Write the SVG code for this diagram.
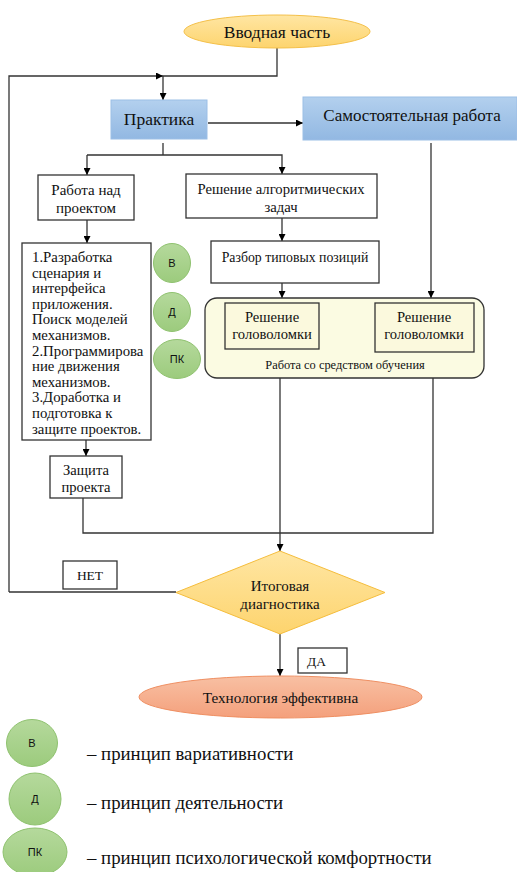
<svg xmlns="http://www.w3.org/2000/svg" width="517" height="872" viewBox="0 0 517 872" font-family="'Liberation Serif', 'Times New Roman', serif">
<defs>
<linearGradient id="gYel" x1="0" y1="0" x2="0" y2="1"><stop offset="0" stop-color="#ffe6a3"/><stop offset="1" stop-color="#fdd46e"/></linearGradient>
<linearGradient id="gBlue" x1="0" y1="0" x2="0" y2="1"><stop offset="0" stop-color="#b3d0ee"/><stop offset="1" stop-color="#92b8e2"/></linearGradient>
<linearGradient id="gGreen" x1="0" y1="0" x2="0" y2="1"><stop offset="0" stop-color="#b5d99c"/><stop offset="1" stop-color="#9ccb7d"/></linearGradient>
<linearGradient id="gSalmon" x1="0" y1="0" x2="0" y2="1"><stop offset="0" stop-color="#f8c0a3"/><stop offset="1" stop-color="#f4a07c"/></linearGradient>
<marker id="ah" viewBox="0 0 10 10" refX="10" refY="5" markerWidth="7" markerHeight="7" markerUnits="userSpaceOnUse" orient="auto"><path d="M0,0 L10,5 L0,10 z" fill="#000"/></marker>
</defs>
<style>
text{fill:#111;text-anchor:middle;dominant-baseline:central}
.box{fill:#fff;stroke:#333;stroke-width:1.3}
.blue{fill:url(#gBlue);stroke:#9cbfe6;stroke-width:1}
.circ{fill:url(#gGreen);stroke:#8fc26f;stroke-width:1}
.ct{font-family:'Liberation Sans',Arial,sans-serif;font-size:11px}
.conn path{fill:none;stroke:#333;stroke-width:1.3}
.arr{marker-end:url(#ah)}
.lt{text-anchor:start}
.leg{font-size:18.8px;text-anchor:start}
</style>

<g id="connectors" class="conn">
<path d="M277,48 V76 H163"/>
<path class="arr" d="M9,592 V76 H163"/>
<path class="arr" d="M163,76 V100"/>
<path class="arr" d="M208,123 H303"/>
<path d="M163,143 V155"/>
<path class="arr" d="M87,155 V175"/>
<path class="arr" d="M87,155 H282 V174"/>
<path class="arr" d="M431,143 V298"/>
<path class="arr" d="M87,220 V243"/>
<path class="arr" d="M282,218 V241"/>
<path class="arr" d="M282,283 V298"/>
<path class="arr" d="M86,440 V456"/>
<path d="M83,498 V533 H433 V378"/>
<path class="arr" d="M280,378 V551"/>
<path d="M176,592 H9"/>
<path class="arr" d="M280,634 V676"/>
</g>

<g id="n-intro">
<ellipse cx="277" cy="31.5" rx="93" ry="16.5" fill="url(#gYel)" stroke="#f4c04a" stroke-width="1"/>
<text x="277" y="31.5" font-size="17.5">Вводная часть</text>
</g>

<g id="n-practice">
<rect class="blue" x="111" y="100" width="96" height="39"/>
<text x="159" y="119" font-size="17.5">Практика</text>
</g>

<g id="n-self">
<rect class="blue" x="303" y="97" width="214" height="43"/>
<text x="412" y="115" font-size="17">Самостоятельная работа</text>
</g>

<g id="n-project">
<rect class="box" x="38" y="175" width="96" height="45"/>
<text x="86" y="190" font-size="15">Работа над</text>
<text x="86" y="207.5" font-size="15">проектом</text>
</g>

<g id="n-algo">
<rect class="box" x="186" y="174" width="191" height="44"/>
<text x="281" y="189" font-size="14.7">Решение алгоритмических</text>
<text x="281" y="207" font-size="14.7">задач</text>
</g>

<g id="n-steps">
<rect class="box" x="22" y="243" width="129" height="197"/>
<g font-size="14.8">
<text class="lt" x="32" y="257">1.Разработка</text>
<text class="lt" x="32" y="272.6">сценария и</text>
<text class="lt" x="32" y="288.2">интерфейса</text>
<text class="lt" x="32" y="303.8">приложения.</text>
<text class="lt" x="32" y="319.4">Поиск моделей</text>
<text class="lt" x="32" y="335">механизмов.</text>
<text class="lt" x="32" y="350.6">2.Программирова</text>
<text class="lt" x="32" y="366.2">ние движения</text>
<text class="lt" x="32" y="381.8">механизмов.</text>
<text class="lt" x="32" y="397.4">3.Доработка и</text>
<text class="lt" x="32" y="413">подготовка к</text>
<text class="lt" x="32" y="428.6">защите проектов.</text>
</g>
</g>

<g id="c-v">
<ellipse class="circ" cx="172" cy="263" rx="18.5" ry="19.5"/>
<text class="ct" x="172" y="263">В</text>
</g>
<g id="c-d">
<ellipse class="circ" cx="172" cy="312" rx="18.5" ry="19.5"/>
<text class="ct" x="172" y="312" font-size="12">Д</text>
</g>
<g id="c-pk">
<ellipse class="circ" cx="177" cy="359" rx="23.5" ry="19.5"/>
<text class="ct" x="177" y="359">ПК</text>
</g>

<g id="n-razbor">
<rect class="box" x="211" y="241" width="168" height="42"/>
<text x="295" y="257" font-size="13.8">Разбор типовых позиций</text>
</g>

<g id="n-tool">
<rect x="205" y="298" width="279" height="80" rx="12" ry="12" fill="#fbfbe2" stroke="#333" stroke-width="1.3"/>
<text x="345" y="365" font-size="12.4">Работа со средством обучения</text>
</g>

<g id="n-puzzle1">
<rect x="225" y="303" width="94" height="46" fill="#fbf9dd" stroke="#333" stroke-width="1.3"/>
<text x="272" y="317" font-size="14.6">Решение</text>
<text x="272" y="333.5" font-size="14.6">головоломки</text>
</g>

<g id="n-puzzle2">
<rect x="375" y="303" width="99" height="49" fill="#fbf9dd" stroke="#333" stroke-width="1.3"/>
<text x="424" y="317" font-size="14.6">Решение</text>
<text x="424" y="333.5" font-size="14.6">головоломки</text>
</g>

<g id="n-defense">
<rect class="box" x="50" y="456" width="72" height="42"/>
<text x="86" y="470" font-size="14.6">Защита</text>
<text x="86" y="487" font-size="14.6">проекта</text>
</g>

<g id="n-diag">
<polygon points="280,551 385,592.5 280,634 176,592.5" fill="url(#gYel)" stroke="#f5bd3c" stroke-width="1"/>
<text x="280" y="586" font-size="15">Итоговая</text>
<text x="280" y="604" font-size="15">диагностика</text>
</g>

<g id="l-net">
<rect class="box" x="63" y="561" width="54" height="28"/>
<text x="90" y="575" font-size="13.5">НЕТ</text>
</g>

<g id="l-da">
<rect class="box" x="298" y="648" width="49" height="25"/>
<text class="lt" x="307" y="661" font-size="13.5">ДА</text>
</g>

<g id="n-result">
<ellipse cx="280.5" cy="697" rx="141.5" ry="21" fill="url(#gSalmon)" stroke="#ef8f62" stroke-width="1"/>
<text x="280.5" y="697" font-size="15.2">Технология эффективна</text>
</g>

<g id="legend">
<ellipse class="circ" cx="32" cy="743" rx="25.5" ry="23.5"/>
<text class="ct" x="32" y="743" font-size="13">В</text>
<ellipse class="circ" cx="35" cy="799" rx="26" ry="26"/>
<text class="ct" x="35" y="799" font-size="14">Д</text>
<ellipse class="circ" cx="35" cy="852" rx="32" ry="24"/>
<text class="ct" x="35" y="852" font-size="13">ПК</text>
<text class="leg" x="87" y="753">– принцип вариативности</text>
<text class="leg" x="87" y="802">– принцип деятельности</text>
<text class="leg" x="87" y="857">– принцип психологической комфортности</text>
</g>
</svg>
